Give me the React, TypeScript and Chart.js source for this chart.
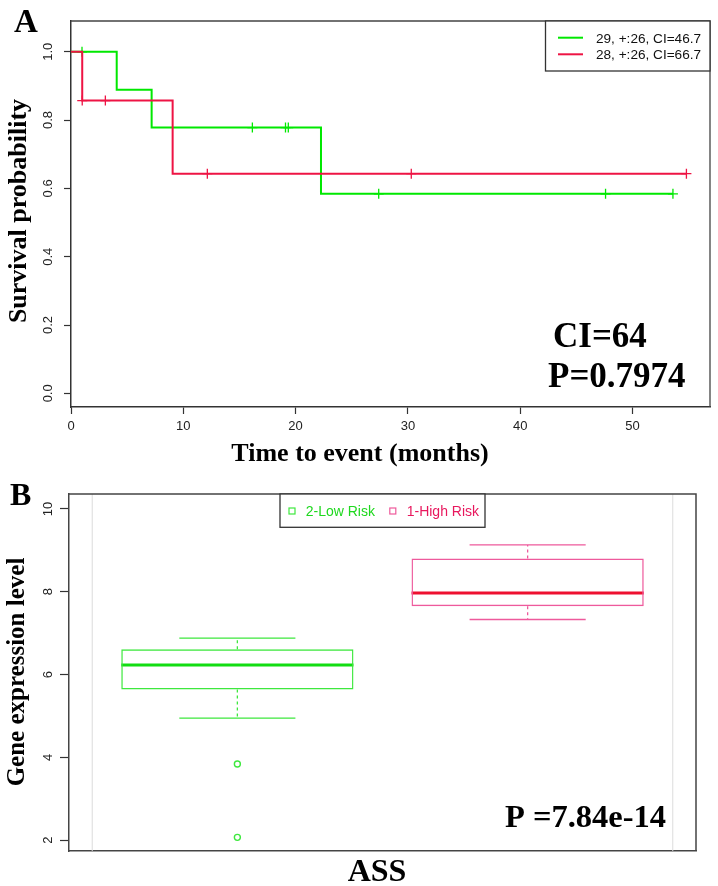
import React, { useEffect, useRef } from 'react';
import { Chart, registerables } from 'chart.js';

Chart.register(...registerables);

// ---------- Panel A: Kaplan-Meier survival ----------
const kmTimeTicks = [0, 10, 20, 30, 40, 50];
const kmSurvTicks = [0, 0.2, 0.4, 0.6, 0.8, 1.0];
const lowStepTimes = [0, 4.07, 7.18, 22.26, 53.6];
const lowStepSurv = [1, 0.889, 0.778, 0.584, 0.584];
const lowCensorTimes = [0.98, 16.15, 19.1, 19.35, 27.4, 47.6, 53.6];
const lowCensorSurv = [1, 0.778, 0.778, 0.778, 0.584, 0.584, 0.584];
const highStepTimes = [0, 1.0, 9.05, 54.8];
const highStepSurv = [1, 0.857, 0.643, 0.643];
const highCensorTimes = [1.0, 3.06, 12.14, 30.3, 54.8];
const highCensorSurv = [0.857, 0.857, 0.643, 0.643, 0.643];
const kmLegend = ['29, +:26, CI=46.7', '28, +:26, CI=66.7'];
const kmNotes = ['CI=64', 'P=0.7974'];

// ---------- Panel B: expression boxplot ----------
const riskGroups = ['2-Low Risk', '1-High Risk'];
const groupPos = [1, 2];
const boxQ1 = [5.64, 7.65];
const boxMedian = [6.23, 7.97];
const boxQ3 = [6.61, 8.8];
const whiskerLow = [4.95, 7.33];
const whiskerHigh = [6.88, 9.13];
const outlierValues = [[3.84, 2.07], []];
const exprTicks = [2, 4, 6, 8, 10];
const boxNote = 'P =7.84e-14';

// ---------- styles ----------
const SERIF = '"Liberation Serif", "Times New Roman", serif';
const SANS = '"Liberation Sans", Arial, Helvetica, sans-serif';
const GREEN_A = '#00e800';
const RED_A = '#ee1444';
const boxColors = ['#3ee83e', '#ee5a9c'];
const medianColors = ['#12dd12', '#ee1030'];
const legendTextColors = ['#1ed81e', '#e8175d'];
const BOX_HALF = 0.4;
const CAP_HALF = 0.2;

function drawText(
  ctx: CanvasRenderingContext2D,
  s: string,
  x: number,
  y: number,
  font: string,
  color: string,
  align: CanvasTextAlign = 'left',
  baseline: CanvasTextBaseline = 'alphabetic',
  rot = 0
) {
  ctx.save();
  ctx.translate(x, y);
  if (rot) ctx.rotate(rot);
  ctx.font = font;
  ctx.fillStyle = color;
  ctx.textAlign = align;
  ctx.textBaseline = baseline;
  ctx.fillText(s, 0, 0);
  ctx.restore();
}

const panelAPlugin = {
  id: 'panelA',
  afterDraw(chart: any) {
    const { ctx, chartArea: ca, scales } = chart;
    const xs = scales.x;
    const ys = scales.y;
    ctx.save();
    ctx.strokeStyle = '#444';
    ctx.lineWidth = 1.3;
    ctx.beginPath();
    ctx.moveTo(ca.left, ca.top);
    ctx.lineTo(ca.right, ca.top);
    ctx.lineTo(ca.right, ca.bottom);
    ctx.stroke();

    kmSurvTicks.forEach((v) =>
      drawText(ctx, v.toFixed(1), 52, ys.getPixelForValue(v), `13px ${SANS}`, '#222', 'center', 'alphabetic', -Math.PI / 2)
    );
    kmTimeTicks.forEach((v) =>
      drawText(ctx, String(v), xs.getPixelForValue(v), 430, `13px ${SANS}`, '#222', 'center')
    );

    drawText(ctx, 'Time to event (months)', 360, 461, `bold 26px ${SERIF}`, '#000', 'center');
    drawText(ctx, 'Survival probability', 26, 211, `bold 26px ${SERIF}`, '#000', 'center', 'alphabetic', -Math.PI / 2);
    drawText(ctx, 'A', 14, 32, `bold 33px ${SERIF}`, '#000');
    drawText(ctx, kmNotes[0], 553, 347, `bold 35px ${SERIF}`, '#000');
    drawText(ctx, kmNotes[1], 548, 387, `bold 35px ${SERIF}`, '#000');

    // legend
    const lx = 545.5, ly = ca.top, lw = ca.right - 545.5, lh = 50;
    ctx.fillStyle = '#fff';
    ctx.fillRect(lx, ly, lw, lh);
    ctx.strokeStyle = '#333';
    ctx.lineWidth = 1.3;
    ctx.strokeRect(lx, ly, lw, lh);
    const cols = [GREEN_A, RED_A];
    kmLegend.forEach((t, i) => {
      const yy = 37.7 + i * 16.6;
      ctx.strokeStyle = cols[i];
      ctx.lineWidth = 2;
      ctx.beginPath();
      ctx.moveTo(558, yy);
      ctx.lineTo(583, yy);
      ctx.stroke();
      drawText(ctx, t, 596, yy + 4.8, `13.6px ${SANS}`, '#111');
    });
    ctx.restore();
  },
};

const panelBPlugin = {
  id: 'panelB',
  beforeDatasetsDraw(chart: any) {
    const { ctx, chartArea: ca, scales } = chart;
    ctx.save();
    ctx.strokeStyle = '#dcdcdc';
    ctx.lineWidth = 1;
    [0.5, 2.5].forEach((v) => {
      const px = scales.x.getPixelForValue(v);
      ctx.beginPath();
      ctx.moveTo(px, ca.top);
      ctx.lineTo(px, ca.bottom);
      ctx.stroke();
    });
    ctx.restore();
  },
  afterDraw(chart: any) {
    const { ctx, chartArea: ca, scales } = chart;
    const ys = scales.y;
    ctx.save();
    ctx.strokeStyle = '#444';
    ctx.lineWidth = 1.5;
    ctx.beginPath();
    ctx.moveTo(ca.left, ca.top);
    ctx.lineTo(ca.right, ca.top);
    ctx.lineTo(ca.right, ca.bottom);
    ctx.stroke();

    exprTicks.forEach((v) =>
      drawText(ctx, String(v), 52, ys.getPixelForValue(v), `13px ${SANS}`, '#222', 'center', 'alphabetic', -Math.PI / 2)
    );

    drawText(ctx, 'Gene expression level', 24, 202, `bold 25px ${SERIF}`, '#000', 'center', 'alphabetic', -Math.PI / 2);
    drawText(ctx, 'ASS', 377, 411, `bold 32px ${SERIF}`, '#000', 'center');
    drawText(ctx, 'B', 10, 35, `bold 32px ${SERIF}`, '#000');
    drawText(ctx, boxNote, 505, 357, `bold 32.5px ${SERIF}`, '#000');

    // legend
    const lx = 280, ly = ca.top, lw = 205, lh = 33.3;
    ctx.fillStyle = '#fff';
    ctx.fillRect(lx, ly, lw, lh);
    ctx.strokeStyle = '#333';
    ctx.lineWidth = 1.3;
    ctx.strokeRect(lx, ly, lw, lh);
    const sq = [292, 392.8];
    const tx = [305.7, 406.7];
    riskGroups.forEach((g, i) => {
      ctx.strokeStyle = boxColors[i];
      ctx.lineWidth = 1.2;
      ctx.strokeRect(sq[i] - 3, 41 - 3, 6, 6);
      drawText(ctx, g, tx[i], 46, `14px ${SANS}`, legendTextColors[i]);
    });
    ctx.restore();
  },
};

function buildChartA(canvas: HTMLCanvasElement) {
  const toPts = (xs: number[], ys: number[]) => xs.map((x, i) => ({ x, y: ys[i] }));
  return new Chart(canvas, {
    type: 'line',
    data: {
      datasets: [
        {
          label: 'high',
          data: toPts(highStepTimes, highStepSurv),
          stepped: 'before',
          borderColor: RED_A,
          borderWidth: 2,
          pointRadius: 0,
          fill: false,
        },
        {
          label: 'high censored',
          data: toPts(highCensorTimes, highCensorSurv),
          showLine: false,
          pointStyle: 'cross',
          pointRadius: 5,
          borderColor: RED_A,
          borderWidth: 1.3,
        },
        {
          label: 'low',
          data: toPts(lowStepTimes, lowStepSurv),
          stepped: 'before',
          borderColor: GREEN_A,
          borderWidth: 2,
          pointRadius: 0,
          fill: false,
        },
        {
          label: 'low censored',
          data: toPts(lowCensorTimes, lowCensorSurv),
          showLine: false,
          pointStyle: 'cross',
          pointRadius: 5,
          borderColor: GREEN_A,
          borderWidth: 1.3,
        },
      ] as any,
    },
    options: {
      animation: false,
      responsive: false,
      devicePixelRatio: 1,
      layout: { padding: { left: 0, top: 21, right: 8, bottom: 0 } },
      plugins: { legend: { display: false }, tooltip: { enabled: false } },
      scales: {
        x: {
          type: 'linear',
          min: 0,
          max: 56.9,
          afterBuildTicks: (s: any) => {
            s.ticks = kmTimeTicks.map((v) => ({ value: v }));
          },
          afterFit: (s: any) => {
            s.height = 63;
          },
          ticks: { display: false },
          grid: { drawOnChartArea: false, drawTicks: true, tickLength: 7, tickWidth: 1.2, tickColor: '#333' },
          border: { display: true, color: '#333', width: 1.5 },
        },
        y: {
          type: 'linear',
          min: -0.04,
          max: 1.09,
          afterBuildTicks: (s: any) => {
            s.ticks = kmSurvTicks.map((v) => ({ value: v }));
          },
          afterFit: (s: any) => {
            s.width = 71;
          },
          ticks: { display: false },
          grid: { drawOnChartArea: false, drawTicks: true, tickLength: 7, tickWidth: 1.2, tickColor: '#333' },
          border: { display: true, color: '#333', width: 1.5 },
        },
      },
    } as any,
    plugins: [panelAPlugin],
  });
}

function buildChartB(canvas: HTMLCanvasElement) {
  const datasets: any[] = [
    {
      type: 'bar',
      label: 'IQR',
      data: groupPos.map((x, i) => ({ x, y: [boxQ1[i], boxQ3[i]] })),
      backgroundColor: 'rgba(0,0,0,0)',
      borderColor: boxColors,
      borderWidth: 1.4,
      borderSkipped: false,
      inflateAmount: 0,
      barPercentage: 1,
      categoryPercentage: 2 * BOX_HALF,
    },
  ];
  groupPos.forEach((x, i) => {
    datasets.push({
      type: 'line',
      label: riskGroups[i] + ' median',
      data: [
        { x: x - BOX_HALF, y: boxMedian[i] },
        { x: x + BOX_HALF, y: boxMedian[i] },
      ],
      borderColor: medianColors[i],
      borderWidth: 3,
      pointRadius: 0,
    });
    datasets.push({
      type: 'line',
      label: riskGroups[i] + ' whiskers',
      data: [
        { x, y: boxQ3[i] },
        { x, y: whiskerHigh[i] },
        { x, y: null },
        { x, y: boxQ1[i] },
        { x, y: whiskerLow[i] },
      ],
      borderColor: boxColors[i],
      borderWidth: 1.3,
      borderDash: [3, 3],
      pointRadius: 0,
      spanGaps: false,
    });
    datasets.push({
      type: 'line',
      label: riskGroups[i] + ' caps',
      data: [
        { x: x - CAP_HALF, y: whiskerHigh[i] },
        { x: x + CAP_HALF, y: whiskerHigh[i] },
        { x, y: null },
        { x: x - CAP_HALF, y: whiskerLow[i] },
        { x: x + CAP_HALF, y: whiskerLow[i] },
      ],
      borderColor: boxColors[i],
      borderWidth: 1.3,
      pointRadius: 0,
      spanGaps: false,
    });
    datasets.push({
      type: 'line',
      label: riskGroups[i] + ' outliers',
      data: outlierValues[i].map((v) => ({ x, y: v })),
      showLine: false,
      pointStyle: 'circle',
      pointRadius: 3,
      borderColor: boxColors[i],
      backgroundColor: 'rgba(0,0,0,0)',
      borderWidth: 1.4,
    });
  });

  return new Chart(canvas, {
    type: 'line',
    data: { datasets },
    options: {
      animation: false,
      responsive: false,
      devicePixelRatio: 1,
      layout: { padding: { left: 0, top: 24, right: 22, bottom: 0 } },
      plugins: { legend: { display: false }, tooltip: { enabled: false } },
      scales: {
        x: {
          type: 'linear',
          min: 0.42,
          max: 2.58,
          offset: false,
          afterBuildTicks: (s: any) => {
            s.ticks = [];
          },
          afterFit: (s: any) => {
            s.height = 35;
          },
          ticks: { display: false },
          grid: { display: false, offset: false },
          border: { display: true, color: '#444', width: 1.5 },
        },
        y: {
          type: 'linear',
          min: 1.74,
          max: 10.36,
          afterBuildTicks: (s: any) => {
            s.ticks = exprTicks.map((v) => ({ value: v }));
          },
          afterFit: (s: any) => {
            s.width = 69;
          },
          ticks: { display: false },
          grid: { drawOnChartArea: false, drawTicks: true, tickLength: 9, tickWidth: 1.2, tickColor: '#333' },
          border: { display: true, color: '#444', width: 1.5 },
        },
      },
    } as any,
    plugins: [panelBPlugin],
  });
}

export default function App() {
  const aRef = useRef<HTMLCanvasElement>(null);
  const bRef = useRef<HTMLCanvasElement>(null);
  useEffect(() => {
    const a = buildChartA(aRef.current as HTMLCanvasElement);
    const b = buildChartB(bRef.current as HTMLCanvasElement);
    return () => {
      a.destroy();
      b.destroy();
    };
  }, []);
  return (
    <div style={{ position: 'absolute', left: 0, top: 0, width: 718, height: 886, background: '#fff' }}>
      <canvas
        ref={aRef}
        width={718}
        height={470}
        style={{ position: 'absolute', left: 0, top: 0, width: 718, height: 470, display: 'block' }}
      />
      <canvas
        ref={bRef}
        width={718}
        height={416}
        style={{ position: 'absolute', left: 0, top: 470, width: 718, height: 416, display: 'block' }}
      />
    </div>
  );
}
